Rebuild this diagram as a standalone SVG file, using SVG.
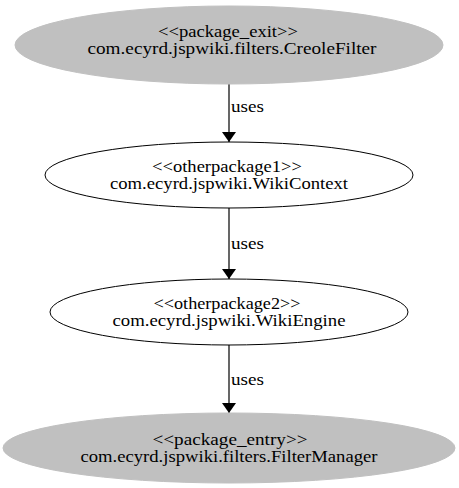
<svg xmlns="http://www.w3.org/2000/svg" width="459" height="488" viewBox="0 0 459 488">
<style>
.n ellipse{stroke:#000;stroke-width:1}
.pkg ellipse{fill:#c0c0c0;stroke:#c0c0c0}
.oth ellipse{fill:#fff}
text{font-family:"Liberation Serif","Times New Roman",serif;font-size:16px;fill:#000;text-anchor:middle}
.e line{stroke:#000;stroke-width:1.2}
.e text{text-anchor:start}
</style>
<defs>
<marker id="ah" viewBox="0 0 10 14" refX="10" refY="7" markerWidth="10" markerHeight="14" markerUnits="userSpaceOnUse" orient="auto">
<path d="M0,0 L10,7 L0,14 Z" fill="#000"/>
</marker>
</defs>
<rect width="459" height="488" fill="#fff"/>
<g id="edges" class="e">
<line x1="229" y1="84" x2="229" y2="142" marker-end="url(#ah)"/>
<text x="231" y="112" textLength="33" lengthAdjust="spacingAndGlyphs">uses</text>
<line x1="229" y1="208" x2="229" y2="279" marker-end="url(#ah)"/>
<text x="231" y="249" textLength="33" lengthAdjust="spacingAndGlyphs">uses</text>
<line x1="229" y1="345" x2="229" y2="413" marker-end="url(#ah)"/>
<text x="231" y="385" textLength="33" lengthAdjust="spacingAndGlyphs">uses</text>
</g>
<g id="node_creole" class="n pkg">
<ellipse cx="229" cy="45" rx="214" ry="39"/>
<text x="228" y="36.5" textLength="140" lengthAdjust="spacingAndGlyphs">&lt;&lt;package_exit&gt;&gt;</text>
<text x="232" y="53.5" textLength="289" lengthAdjust="spacingAndGlyphs">com.ecyrd.jspwiki.filters.CreoleFilter</text>
</g>
<g id="node_wikicontext" class="n oth">
<ellipse cx="229" cy="175" rx="184" ry="33"/>
<text x="227" y="171.5" textLength="150" lengthAdjust="spacingAndGlyphs">&lt;&lt;otherpackage1&gt;&gt;</text>
<text x="229" y="188.5" textLength="238" lengthAdjust="spacingAndGlyphs">com.ecyrd.jspwiki.WikiContext</text>
</g>
<g id="node_wikiengine" class="n oth">
<ellipse cx="229" cy="312" rx="179" ry="33"/>
<text x="227" y="308.5" textLength="147" lengthAdjust="spacingAndGlyphs">&lt;&lt;otherpackage2&gt;&gt;</text>
<text x="229" y="325.5" textLength="233" lengthAdjust="spacingAndGlyphs">com.ecyrd.jspwiki.WikiEngine</text>
</g>
<g id="node_filtermanager" class="n pkg">
<ellipse cx="229" cy="448" rx="226" ry="35"/>
<text x="230" y="444.5" textLength="155" lengthAdjust="spacingAndGlyphs">&lt;&lt;package_entry&gt;&gt;</text>
<text x="229" y="461.5" textLength="297" lengthAdjust="spacingAndGlyphs">com.ecyrd.jspwiki.filters.FilterManager</text>
</g>
</svg>
